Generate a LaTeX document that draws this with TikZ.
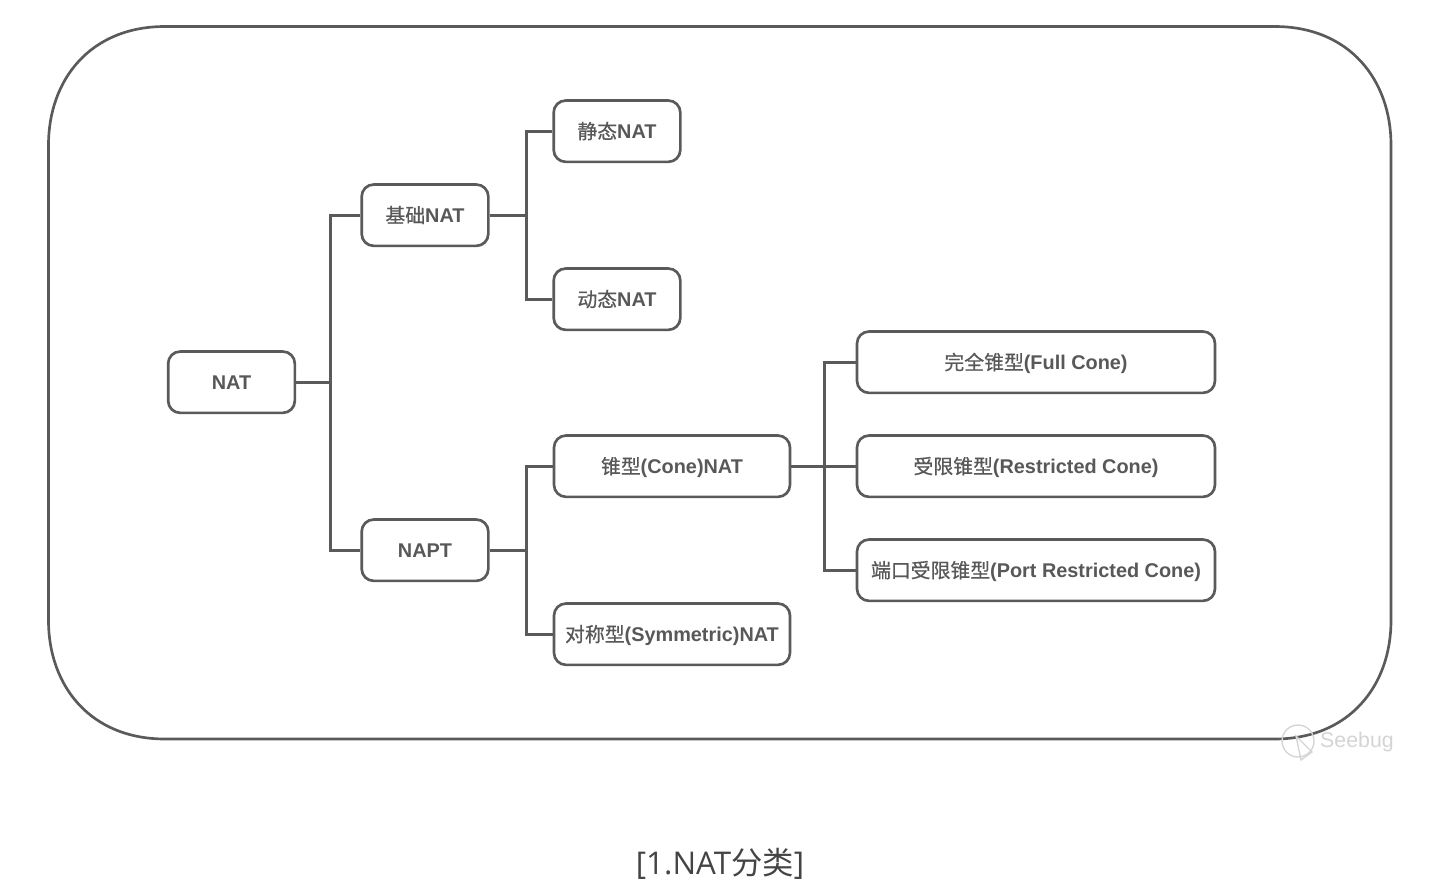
\documentclass[tikz,border=0pt]{standalone}
\usepackage{xcolor}
\usepackage{fontspec}
\usepackage{tikz}
\setmainfont{Liberation Sans}
\newfontfamily\cjk[BoldFont={Noto Sans CJK SC},BoldFeatures={FakeBold=0.6}]{Noto Sans CJK SC}
\newfontfamily\capfont{Open Sans}
\newcommand{\zh}[1]{{\cjk #1}}
\usetikzlibrary{positioning,calc}
\definecolor{linegray}{RGB}{90,90,90}
\definecolor{textgray}{RGB}{88,88,88}
\definecolor{capgray}{RGB}{68,68,68}
\definecolor{markgray}{RGB}{212,212,212}

\begin{document}
\begin{tikzpicture}[
    x=0.75pt, y=-0.75pt,
    item/.style={rectangle, rounded corners=9pt, draw=linegray, line width=2pt, fill=white, text=textgray,
        font=\fontsize{14.9}{18}\selectfont\bfseries, minimum height=46pt, inner sep=0pt,
        text height=12.6pt, text depth=1.4pt},
    small/.style={item, minimum width=95pt},
    middle/.style={item, minimum width=177pt},
    large/.style={item, minimum width=268.5pt},
    link/.style={draw=linegray, line width=2pt}
]
    \useasboundingbox (0,0) rectangle (1447,892);
    \draw[link] (48.5,145) .. controls (48.5,80) and (90,26.5) .. (165,26.5) -- (1274.5,26.5)
        .. controls (1349.5,26.5) and (1391,80) .. (1391,145) -- (1391,620.5)
        .. controls (1391,685.5) and (1349.5,739) .. (1274.5,739) -- (165,739)
        .. controls (90,739) and (48.5,685.5) .. (48.5,620.5) -- cycle;

    \node[small] (nat) at (231.5,382.2) {NAT};
    \node[small] (basic) at (425,215.2) {\zh{基础}NAT};
    \node[small] (napt) at (425,550.2) {NAPT};
    \node[small] (static) at (617,131.2) {\zh{静态}NAT};
    \node[small] (dynamic) at (617,299.2) {\zh{动态}NAT};
    \node[middle] (cone) at (672,466.2) {\zh{锥型}(Cone)NAT};
    \node[middle] (symm) at (672,634.2) {\zh{对称型}(Symmetric)NAT};
    \node[large] (full) at (1036,362.2) {\zh{完全锥型}(Full Cone)};
    \node[large] (restr) at (1036,466.2) {\zh{受限锥型}(Restricted Cone)};
    \node[large] (port) at (1036,570.2) {\zh{端口受限锥型}(Port Restricted Cone)};

    \draw[link] (nat.east) -- ++(34,0) |- (basic.west);
    \draw[link] (nat.east) -- ++(34,0) |- (napt.west);
    \draw[link] (basic.east) -- ++(37,0) |- (static.west);
    \draw[link] (basic.east) -- ++(37,0) |- (dynamic.west);
    \draw[link] (napt.east) -- ++(37,0) |- (cone.west);
    \draw[link] (napt.east) -- ++(37,0) |- (symm.west);
    \draw[link] (cone.east) -- ++(33,0) |- (full.west);
    \draw[link] (cone.east) -- (restr.west);
    \draw[link] (cone.east) -- ++(33,0) |- (port.west);

    % watermark
    \draw[markgray, line width=1pt] (1298,741) circle (16);
    \draw[markgray, line width=1pt] (1296,736) -- (1312,752) -- (1301,760) -- cycle;
    \node[text=markgray, font=\fontsize{16}{18}\selectfont] (mark) at (1357,742) {Seebug};

    \node[text=capgray, font=\capfont\fontsize{23.5}{26}\selectfont] (caption) at (720,864) {[1.NAT{\cjk\fontsize{23.5}{26}\selectfont 分类}]};
\end{tikzpicture}
\end{document}
